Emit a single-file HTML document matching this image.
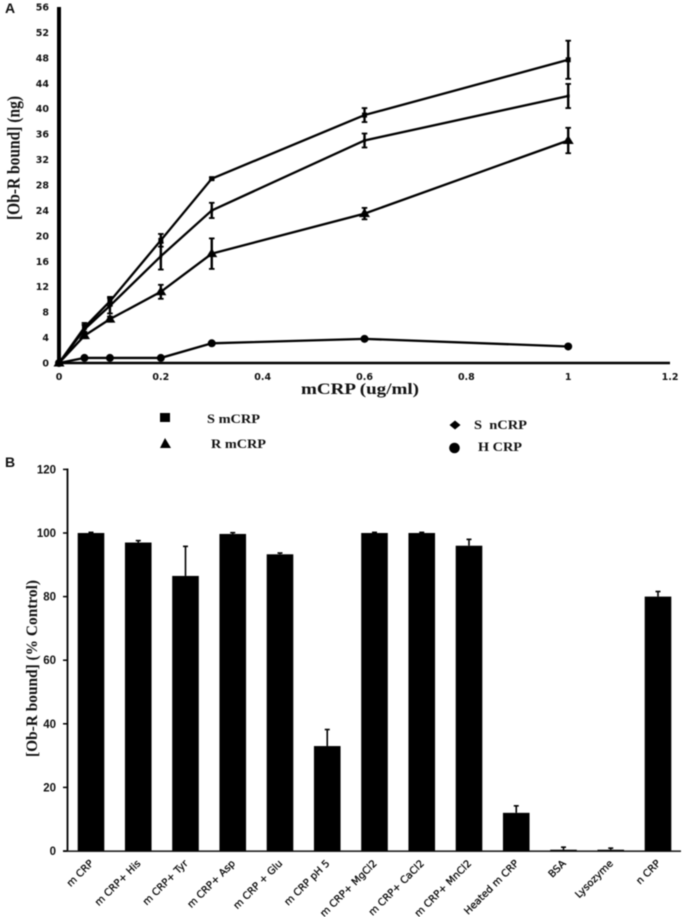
<!DOCTYPE html>
<html>
<head>
<meta charset="utf-8">
<title>mCRP binding to Ob-R</title>
<style>
html,body{margin:0;padding:0;background:#fff;width:686px;height:917px;overflow:hidden}
svg{display:block;filter:blur(0.45px)}
.ta{font:bold 9.5px "DejaVu Sans",sans-serif;fill:#111}
.tb{font:bold 11.5px "Liberation Sans",sans-serif;fill:#111}
.cat{font:10px "DejaVu Sans",sans-serif;fill:#000;stroke:#000;stroke-width:0.25px}
.serif{font-family:"Liberation Serif",serif;font-weight:bold;fill:#111}
.panel{font:bold 14px "Liberation Sans",sans-serif;fill:#111}
</style>
</head>
<body>
<svg id="chart" xmlns="http://www.w3.org/2000/svg" width="686" height="917" viewBox="0 0 686 917">
  <text class="panel" x="5" y="13">A</text>
  <text class="panel" x="5" y="467">B</text>
  <g id="panelA"></g>
  <g id="panelB"></g>
  <text class="serif" font-size="17.5" transform="translate(19.5,220) rotate(-90)" textLength="124" lengthAdjust="spacingAndGlyphs">[Ob-R bound] (ng)</text>
  <text class="serif" font-size="16" x="301" y="394" textLength="118" lengthAdjust="spacingAndGlyphs">mCRP (ug/ml)</text>
  <text class="serif" font-size="15.5" transform="translate(37,757) rotate(-90)" textLength="177" lengthAdjust="spacingAndGlyphs">[Ob-R bound] (% Control)</text>
  <g>
    <g>
      <rect x="160" y="413" width="10" height="9" fill="#000"></rect>
      <text class="serif" font-size="12.5" x="207" y="423" textLength="53" lengthAdjust="spacingAndGlyphs">S mCRP</text>
    </g>
    <g>
      <polygon points="165,438 171,448 160,448" fill="#000"></polygon>
      <text class="serif" font-size="12.5" x="211" y="448" textLength="55" lengthAdjust="spacingAndGlyphs">R mCRP</text>
    </g>
    <g>
      <polygon points="455,420.500 460.500,425 455,429.500 449.500,425" fill="#000"></polygon>
      <text class="serif" font-size="12.5" x="474" y="429" textLength="53" lengthAdjust="spacingAndGlyphs" xml:space="preserve">S  nCRP</text>
    </g>
    <g>
      <circle cx="454.500" cy="448" r="5.300" fill="#000"></circle>
      <text class="serif" font-size="12.5" x="478" y="451" textLength="44" lengthAdjust="spacingAndGlyphs">H CRP</text>
    </g>
  </g>
</svg>
<script>
// ---- Panel A data ----
const doseValues = [0, 0.05, 0.1, 0.2, 0.3, 0.6, 1];
const xTicksA = [0, 0.2, 0.4, 0.6, 0.8, 1, 1.2];
const yTicksA = [0, 4, 8, 12, 16, 20, 24, 28, 32, 36, 40, 44, 48, 52, 56];
const sMcrp = [0, 5.6, 9.7, 19.3, 29, 39, 47.7];
const sMcrpErr = [0, 0.7, 0.7, 1, 0.2, 1.1, 3];
const sNcrp = [0, 5.3, 9, 16.8, 24, 35, 42];
const sNcrpErr = [0, 0.7, 1.2, 2.1, 1.2, 1.1, 1.9];
const rMcrp = [0, 4.3, 6.9, 11.2, 17.2, 23.5, 35];
const rMcrpErr = [0, 0.4, 0.4, 1.1, 2.4, 0.9, 2];
const hCrp = [0, 0.8, 0.8, 0.8, 3.1, 3.8, 2.6];
const hCrpErr = [0, 0, 0, 0, 0, 0, 0];

// ---- Panel B data ----
const categories = ['m CRP','m CRP+ His','m CRP+ Tyr','m CRP+ Asp','m CRP + Glu','m CRP pH 5','m CRP+ MgCl2','m CRP+ CaCl2','m CRP+ MnCl2','Heated m CRP','BSA','Lysozyme','n CRP'];
const barValues = [100, 97, 86.5, 99.7, 93.3, 33, 100, 100, 96, 12, 0.4, 0.4, 80];
const barErrors = [0.2, 0.6, 9.3, 0.4, 0.4, 5.2, 0.2, 0.2, 2, 2.2, 0.8, 0.5, 1.6];
const yTicksB = [0, 20, 40, 60, 80, 100, 120];

const NS = 'http://www.w3.org/2000/svg';
function add(parent, tag, attrs, txt) {
  const el = document.createElementNS(NS, tag);
  for (const k in attrs) el.setAttribute(k, attrs[k]);
  if (txt !== undefined) el.textContent = txt;
  parent.appendChild(el);
  return el;
}

// axis functions
const xA = v => 59 + v * 509.2;
const yA = v => 363 - v * 6.357;
const xB = i => 91 + i * 47.25;
const yB = v => 851 - v * 3.18;

const A = document.getElementById('panelA');

const axisYA = add(A, 'line', {x1: 59, y1: 7, x2: 59, y2: 365, stroke: '#000', 'stroke-width': 4});


const axisXA = add(A, 'line', {x1: 59, y1: 363, x2: 670, y2: 363, stroke: '#000', 'stroke-width': 2.4});



yTicksA.forEach(t => {
  const el = add(A, 'text', {class: 'ta', x: 49, y: yA(t) + 3.5, 'text-anchor': 'end'}, String(t));
  
  
});
xTicksA.forEach(t => {
  const el = add(A, 'text', {class: 'ta', x: xA(t), y: 380, 'text-anchor': 'middle'}, String(t));
  
  
});

function marker(g, shape, x, y) {
  if (shape === 'square') add(g, 'rect', {x: x - 2.5, y: y - 2.5, width: 5, height: 5, fill: '#000'});
  if (shape === 'small') add(g, 'rect', {x: x - 1.5, y: y - 1.5, width: 3, height: 3, fill: '#000'});
  if (shape === 'triangle') add(g, 'polygon', {points: (x) + ',' + (y - 5.5) + ' ' + (x + 5.5) + ',' + (y + 3.5) + ' ' + (x - 5.5) + ',' + (y + 3.5), fill: '#000'});
  if (shape === 'circle') add(g, 'circle', {cx: x, cy: y, r: 4, fill: '#000'});
}

function drawSeries(name, vals, errs, shape) {
  const g = add(A, 'g', {});
  
  
  add(g, 'polyline', {
    points: vals.map((v, i) => xA(doseValues[i]) + ',' + yA(v)).join(' '),
    fill: 'none', stroke: '#000', 'stroke-width': 2.3
  });
  vals.forEach((v, i) => {
    const x = xA(doseValues[i]);
    const e = errs[i];
    if (e > 0) {
      add(g, 'line', {x1: x, x2: x, y1: yA(v + e), y2: yA(v - e), stroke: '#000', 'stroke-width': 2.4});
      add(g, 'line', {x1: x - 2.8, x2: x + 2.8, y1: yA(v + e), y2: yA(v + e), stroke: '#000', 'stroke-width': 1.8});
      add(g, 'line', {x1: x - 2.8, x2: x + 2.8, y1: yA(v - e), y2: yA(v - e), stroke: '#000', 'stroke-width': 1.8});
    }
    marker(g, shape, x, yA(v));
  });
}
drawSeries('series-s-mcrp', sMcrp, sMcrpErr, 'square');
drawSeries('series-s-ncrp', sNcrp, sNcrpErr, 'small');
drawSeries('series-r-mcrp', rMcrp, rMcrpErr, 'triangle');
drawSeries('series-h-crp', hCrp, hCrpErr, 'circle');

const B = document.getElementById('panelB');

const axisYB = add(B, 'line', {x1: 67.5, y1: 468.500, x2: 67.5, y2: 852, stroke: '#000', 'stroke-width': 1.8});


const axisXB = add(B, 'line', {x1: 63, y1: 851.2, x2: 681, y2: 851.2, stroke: '#222', 'stroke-width': 1.6});



yTicksB.forEach(t => {
  add(B, 'line', {x1: 63, x2: 67, y1: yB(t), y2: yB(t), stroke: '#000', 'stroke-width': 1.5});
  const el = add(B, 'text', {class: 'tb', x: 56, y: yB(t) + 4, 'text-anchor': 'end'}, String(t));
  
  
});

categories.forEach((c, i) => {
  const x = xB(i);
  const v = barValues[i];
  const e = barErrors[i];
  const bar = add(B, 'rect', {x: x - 13.3, y: yB(v), width: 26.6, height: 851 - yB(v), fill: '#000'});
  
  
  add(B, 'line', {x1: x, x2: x, y1: yB(v), y2: yB(v + e), stroke: '#000', 'stroke-width': 1.6});
  add(B, 'line', {x1: x - 2.5, x2: x + 2.5, y1: yB(v + e), y2: yB(v + e), stroke: '#000', 'stroke-width': 1.6});
  const lab = add(B, 'text', {class: 'cat', 'text-anchor': 'end', transform: 'translate(' + (x + 3) + ',864) rotate(-45)'}, c);
  
  
});
</script>
</body>
</html>
